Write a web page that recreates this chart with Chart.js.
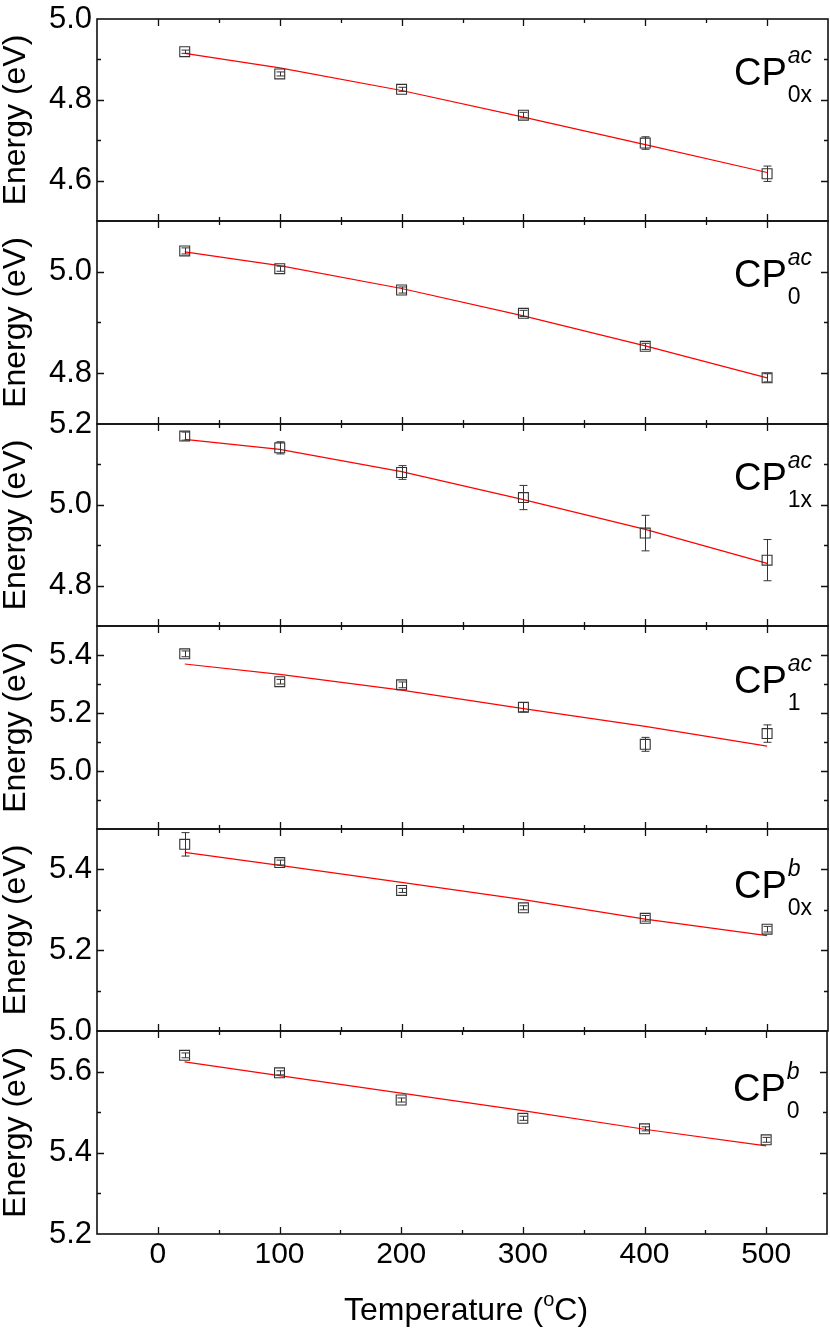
<!DOCTYPE html>
<html>
<head>
<meta charset="utf-8">
<script src="https://cdn.jsdelivr.net/npm/chart.js@4.4.0/dist/chart.umd.min.js"></script>
<style>
html,body{margin:0;padding:0;background:#fff;overflow:hidden;}
#wrap{position:relative;width:830px;height:1330px;overflow:hidden;background:#fff;}
#wrap canvas{position:absolute;left:0;}
</style>
</head>
<body>
<div id="wrap"></div>
<script>
// ---------------- data ----------------
const temperatures = [22, 100, 200, 300, 400, 500];
const xTickLabels = [0, 100, 200, 300, 400, 500];

// CP^ac_0x
const cpAc0xEnergy = [4.919, 4.864, 4.826, 4.762, 4.693, 4.617];
const cpAc0xError  = [0.004, 0.005, 0.005, 0.007, 0.0155, 0.019];
const cpAc0xFit    = [4.915, 4.879, 4.823, 4.757, 4.689, 4.620];
const cpAc0xTicks  = [4.6, 4.8, 5.0];

// CP^ac_0
const cpAc0Energy = [5.041, 5.006, 4.964, 4.918, 4.853, 4.791];
const cpAc0Error  = [0.006, 0.005, 0.006, 0.006, 0.006, 0.008];
const cpAc0Fit    = [5.039, 5.012, 4.967, 4.913, 4.854, 4.791];
const cpAc0Ticks  = [4.8, 5.0];

// CP^ac_1x
const cpAc1xEnergy = [5.170, 5.141, 5.080, 5.018, 4.930, 4.863];
const cpAc1xError  = [0.010, 0.015, 0.017, 0.030, 0.044, 0.051];
const cpAc1xFit    = [5.162, 5.137, 5.082, 5.013, 4.939, 4.855];
const cpAc1xTicks  = [4.8, 5.0, 5.2];

// CP^ac_1
const cpAc1Energy = [5.404, 5.308, 5.297, 5.220, 5.092, 5.129];
const cpAc1Error  = [0.010, 0.008, 0.010, 0.016, 0.024, 0.030];
const cpAc1Fit    = [5.369, 5.333, 5.279, 5.215, 5.154, 5.086];
const cpAc1Ticks  = [5.0, 5.2, 5.4];

// CP^b_0x
const cpB0xEnergy = [5.462, 5.417, 5.348, 5.305, 5.279, 5.252];
const cpB0xError  = [0.029, 0.006, 0.005, 0.005, 0.007, 0.007];
const cpB0xFit    = [5.442, 5.410, 5.368, 5.325, 5.277, 5.236];
const cpB0xTicks  = [5.0, 5.2, 5.4];

// CP^b_0
const cpB0Energy = [5.640, 5.597, 5.530, 5.485, 5.459, 5.432];
const cpB0Error  = [0.006, 0.005, 0.005, 0.005, 0.005, 0.006];
const cpB0Fit    = [5.624, 5.590, 5.547, 5.504, 5.458, 5.417];
const cpB0Ticks  = [5.2, 5.4, 5.6];

const yMins = [4.5, 4.7, 4.7, 4.8, 5.0, 5.2];
const yMaxs = [5.0, 5.1, 5.2, 5.5, 5.5, 5.7];
const labelSup = ['ac', 'ac', 'ac', 'ac', 'b', 'b'];
const labelSub = ['0x', '0', '1x', '1', '0x', '0'];
const yTitle = 'Energy (eV)';
const xTitleMain = 'Temperature (';
const xTitleSup = 'o';
const xTitleEnd = 'C)';

// ---------------- layout / style ----------------
const FONT = "'Liberation Sans', Arial, Helvetica, sans-serif";
const panelEdges = [19, 221, 424, 626, 829, 1031, 1234];
const labelShift = [0, 0, 0, 1, 3, 4];
const PAD = 30;
const PLOT_LEFT = 97;
const PLOT_RIGHT = 828;

const panels = [
  {energy: cpAc0xEnergy, error: cpAc0xError, fit: cpAc0xFit, ticks: cpAc0xTicks},
  {energy: cpAc0Energy,  error: cpAc0Error,  fit: cpAc0Fit,  ticks: cpAc0Ticks},
  {energy: cpAc1xEnergy, error: cpAc1xError, fit: cpAc1xFit, ticks: cpAc1xTicks},
  {energy: cpAc1Energy,  error: cpAc1Error,  fit: cpAc1Fit,  ticks: cpAc1Ticks},
  {energy: cpB0xEnergy,  error: cpB0xError,  fit: cpB0xFit,  ticks: cpB0xTicks},
  {energy: cpB0Energy,   error: cpB0Error,   fit: cpB0Fit,   ticks: cpB0Ticks}
].map((p, i) => Object.assign(p, {min: yMins[i], max: yMaxs[i], sup: labelSup[i], sub: labelSub[i],
                                  shift: labelShift[i], last: i === 5}));

function isListed(list, v) { return list.some(l => Math.abs(l - v) < 1e-6); }

const decorPlugin = {
  id: 'decor',
  afterDatasetsDraw(chart) {
    const p = chart.options.plugins.decor.panel;
    const {ctx, scales: {x, y}} = chart;
    ctx.save();
    ctx.strokeStyle = '#333';
    ctx.lineWidth = 1;
    p.energy.forEach((e, i) => {
      const px = Math.round(x.getPixelForValue(temperatures[i])) + 0.5;
      const y1 = y.getPixelForValue(e - p.error[i]);
      const y2 = y.getPixelForValue(e + p.error[i]);
      ctx.beginPath();
      ctx.moveTo(px, y1); ctx.lineTo(px, y2);
      ctx.moveTo(px - 4, y1); ctx.lineTo(px + 4, y1);
      ctx.moveTo(px - 4, y2); ctx.lineTo(px + 4, y2);
      ctx.stroke();
    });
    ctx.restore();
  },
  afterDraw(chart) {
    const p = chart.options.plugins.decor.panel;
    const {ctx, chartArea: a, scales: {x, y}} = chart;
    ctx.save();
    ctx.strokeStyle = '#111';
    ctx.lineWidth = 1.6;
    ctx.strokeRect(a.left, a.top, a.right - a.left, a.bottom - a.top);
    ctx.lineWidth = 1.3;
    ctx.beginPath();
    x.ticks.forEach(t => {
      const v = t.value;
      if (v <= x.min + 1e-9 || v >= x.max - 1e-9) return;
      const len = isListed(xTickLabels, v) ? 7 : 4;
      const px = Math.round(x.getPixelForValue(v)) + 0.5;
      ctx.moveTo(px, a.top); ctx.lineTo(px, a.top + len);
      ctx.moveTo(px, a.bottom); ctx.lineTo(px, a.bottom - len);
    });
    y.ticks.forEach(t => {
      const v = t.value;
      if (v <= y.min + 1e-9 || v >= y.max - 1e-9) return;
      const major = Math.abs(Math.round(v * 10) % 2) === 0;
      const len = major ? 7 : 4;
      const py = Math.round(y.getPixelForValue(v)) + 0.5;
      ctx.moveTo(a.left, py); ctx.lineTo(a.left + len, py);
      ctx.moveTo(a.right, py); ctx.lineTo(a.right - len, py);
    });
    ctx.stroke();

    // panel label CP^sup_sub
    ctx.fillStyle = '#000';
    ctx.textBaseline = 'alphabetic';
    ctx.textAlign = 'left';
    const lx = a.right - 94;
    const ly = a.top + p.shift;
    ctx.font = '38px ' + FONT;
    ctx.fillText('CP', lx, ly + 66);
    const sx = lx + ctx.measureText('CP').width + 1;
    ctx.font = 'italic 23px ' + FONT;
    ctx.fillText(p.sup, sx, ly + 44);
    ctx.font = '23px ' + FONT;
    ctx.fillText(p.sub, sx, ly + 83);

    // x title on last panel
    if (p.last) {
      const base = a.bottom + 86;
      ctx.font = '32px ' + FONT;
      const w1 = ctx.measureText(xTitleMain).width;
      const w3 = ctx.measureText(xTitleEnd).width;
      ctx.font = '20px ' + FONT;
      const w2 = ctx.measureText(xTitleSup).width;
      const total = w1 + w2 + w3;
      let cx = (a.left + a.right) / 2 + 4 - total / 2;
      ctx.font = '32px ' + FONT;
      ctx.fillText(xTitleMain, cx, base); cx += w1;
      ctx.font = '20px ' + FONT;
      ctx.fillText(xTitleSup, cx, base - 14); cx += w2;
      ctx.font = '32px ' + FONT;
      ctx.fillText(xTitleEnd, cx, base);
    }
    ctx.restore();
  }
};

const wrap = document.getElementById('wrap');
panels.forEach((p, i) => {
  const top = panelEdges[i] - PAD;
  const h = p.last ? 1330 - top : (panelEdges[i + 1] - panelEdges[i]) + 2 * PAD;
  const cv = document.createElement('canvas');
  cv.width = 830; cv.height = h;
  cv.style.top = top + 'px';
  cv.style.width = '830px'; cv.style.height = h + 'px';
  wrap.appendChild(cv);

  const target = {
    left: PLOT_LEFT, right: PLOT_RIGHT, top: PAD,
    bottom: p.last ? panelEdges[i + 1] - top : h - PAD
  };

  const chart = new Chart(cv, {
    type: 'scatter',
    data: {
      datasets: [
        {
          type: 'line',
          data: temperatures.map((t, k) => ({x: t, y: p.fit[k]})),
          borderColor: '#ff0000', borderWidth: 1.2,
          pointRadius: 0, fill: false, tension: 0, order: 2
        },
        {
          type: 'scatter',
          data: temperatures.map((t, k) => ({x: t, y: p.energy[k]})),
          pointStyle: 'rect', pointRadius: 7, pointHoverRadius: 7,
          borderColor: '#333', borderWidth: 1.1,
          backgroundColor: 'rgba(0,0,0,0)', order: 1
        }
      ]
    },
    options: {
      responsive: false, animation: false, devicePixelRatio: 1,
      layout: {autoPadding: false,
               padding: {top: PAD, bottom: p.last ? 0 : PAD, left: 0, right: 830 - PLOT_RIGHT}},
      plugins: {legend: {display: false}, tooltip: {enabled: false}, decor: {panel: p}},
      scales: {
        x: {
          type: 'linear', min: -50, max: 550, display: p.last,
          afterFit(s) { if (p.last) s.height = 96; },
          grid: {display: false, drawTicks: false},
          border: {display: false},
          ticks: {
            stepSize: 50, autoSkip: false, maxRotation: 0, padding: 3,
            color: '#000', font: {family: FONT, size: 30},
            callback: v => isListed(xTickLabels, v) ? String(Math.round(v)) : ''
          }
        },
        y: {
          type: 'linear', min: p.min, max: p.max,
          afterFit(s) { s.width = PLOT_LEFT; },
          grid: {display: false, drawTicks: false},
          border: {display: false},
          ticks: {
            stepSize: 0.1, autoSkip: false, padding: 5,
            color: '#000', font: {family: FONT, size: 31},
            callback: v => isListed(p.ticks, v) ? Number(v).toFixed(1) : ''
          },
          title: {display: true, text: yTitle, color: '#000', padding: 0,
                  font: {family: FONT, size: 32, lineHeight: 1.0}}
        }
      }
    },
    plugins: [decorPlugin]
  });

  // make sure the plot area lands exactly on the panel frame
  for (let k = 0; k < 2; k++) {
    const a = chart.chartArea;
    const pad = chart.options.layout.padding;
    const dR = a.right - target.right;
    const dT = a.top - target.top;
    const dB = a.bottom - target.bottom;
    if (Math.abs(dR) < 0.25 && Math.abs(dT) < 0.25 && Math.abs(dB) < 0.25) break;
    pad.right += dR;
    pad.top -= dT;
    pad.bottom += dB;
    chart.update();
  }
});
</script>
</body>
</html>
